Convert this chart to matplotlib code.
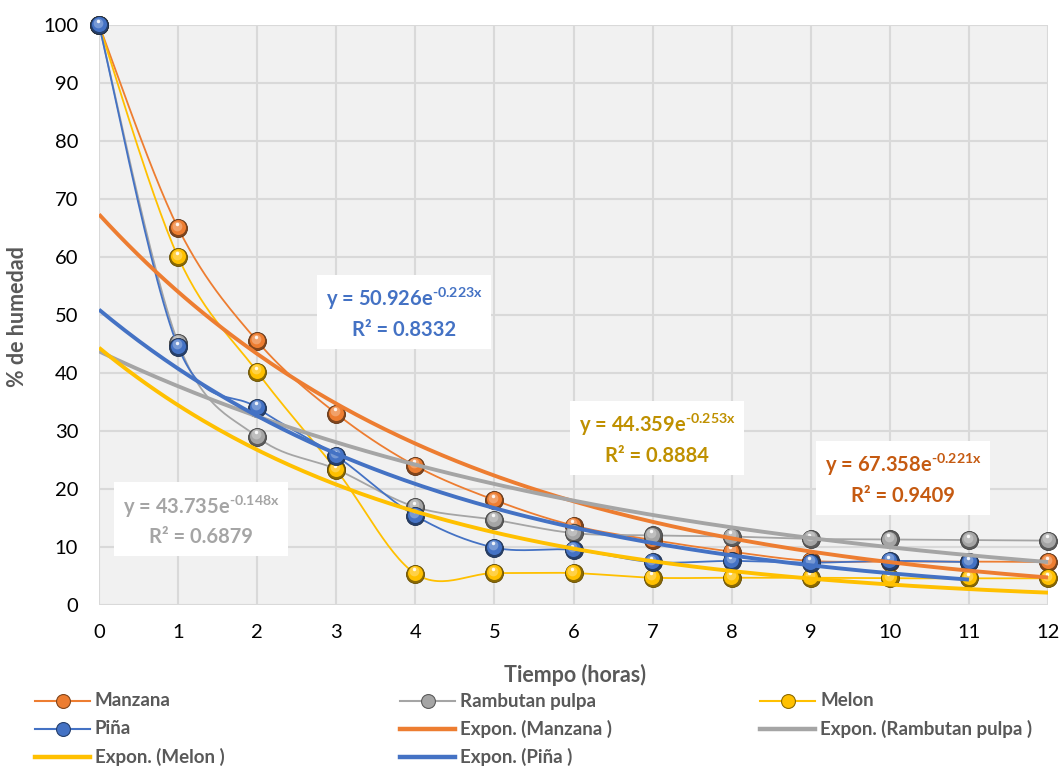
import numpy as np
import matplotlib
matplotlib.use("Agg")
import matplotlib.pyplot as plt
from matplotlib.lines import Line2D
from matplotlib.transforms import offset_copy
import matplotlib.colors as mcolors

plt.rcParams['font.family'] = ['Lato', 'DejaVu Sans']
plt.rcParams['mathtext.fontset'] = 'custom'
plt.rcParams['mathtext.bf'] = 'Lato:bold'
plt.rcParams['mathtext.rm'] = 'Lato:bold'
plt.rcParams['mathtext.default'] = 'bf'

# ---------------- data ----------------
hours = [0, 1, 2, 3, 4, 5, 6, 7, 8, 9, 10, 11, 12]
hours_pina = [0, 1, 2, 3, 4, 5, 6, 7, 8, 9, 10, 11]
manzana = [100, 65, 45.5, 33, 24, 18.1, 13.7, 11.2, 9.2, 7.6, 7.5, 7.5, 7.4]
rambutan = [100, 45.2, 29, 23.4, 16.9, 14.7, 12.4, 12.0, 11.8, 11.4, 11.3, 11.2, 11.1]
melon = [100, 60, 40.2, 23.3, 5.4, 5.5, 5.5, 4.7, 4.7, 4.7, 4.6, 4.6, 4.6]
pina = [100, 44.5, 34, 25.7, 15.4, 9.9, 9.5, 7.4, 7.6, 7.3, 7.6, 7.4]

series_names = ["Manzana", "Rambutan pulpa", "Melon", "Piña"]
trend_a = [67.358, 43.735, 44.359, 50.926]
trend_b = [-0.221, -0.148, -0.253, -0.223]
trend_r2 = ["0.9409", "0.6879", "0.8884", "0.8332"]
trend_xmax = [12, 12, 12, 11]

colors = ["#ED7D31", "#A5A5A5", "#FFC000", "#4472C4"]
eq_colors = ["#C55A11", "#A5A5A5", "#BF9000", "#4472C4"]
eq_pos = [(903, 479), (201, 520), (657, 439), (404, 313)]  # pixel centers

W, H = 1064, 766
fig = plt.figure(figsize=(W / 100, H / 100), dpi=100)
ax = fig.add_axes([99 / W, 1 - 605 / H, 949 / W, 580 / H])
ax.set_facecolor("#F1F1F1")
ax.set_xlim(0, 12)
ax.set_ylim(0, 100)
ax.set_xticks(range(0, 13))
ax.set_yticks(range(0, 101, 10))
ax.grid(True, color="#D9D9D9", linewidth=1.5)
ax.set_axisbelow(True)
for s in ax.spines.values():
    s.set_visible(False)
ax.tick_params(length=0, labelsize=14.5, labelcolor="#000000", pad=15)
ax.tick_params(axis='x', pad=14)


def smooth(x, y, n=30):
    x = np.asarray(x, float)
    y = np.asarray(y, float)
    P = np.column_stack([x, y])
    Pp = np.vstack([P[0], P, P[-1]])
    out = []
    t = np.linspace(0, 1, n)
    for i in range(len(P) - 1):
        p0, p1, p2, p3 = Pp[i], Pp[i + 1], Pp[i + 2], Pp[i + 3]
        c1 = p1 + (p2 - p0) / 6
        c2 = p2 - (p3 - p1) / 6
        seg = ((1 - t) ** 3)[:, None] * p1 + (3 * (1 - t) ** 2 * t)[:, None] * c1 \
            + (3 * (1 - t) * t ** 2)[:, None] * c2 + (t ** 3)[:, None] * p2
        out.append(seg if i == 0 else seg[1:])
    out = np.vstack(out)
    return out[:, 0], out[:, 1]


def shade(c, f):
    r, g, b = mcolors.to_rgb(c)
    if f < 0:
        return (r * (1 + f), g * (1 + f), b * (1 + f))
    return (r + (1 - r) * f, g + (1 - g) * f, b + (1 - b) * f)


def sphere_markers(ax, x, y, c, z, size=13):
    kw = dict(clip_on=False, linestyle='none')
    ax.plot(x, y, 'o', ms=size, color=shade(c, -0.45), mec=shade(c, -0.6), mew=0.6, zorder=z, **kw)
    tr = offset_copy(ax.transData, fig=fig, x=-0.3, y=0.6, units='points')
    ax.plot(x, y, 'o', ms=size - 2.2, color=c, mec='none', zorder=z + 0.1, transform=tr, **kw)
    tr2 = offset_copy(ax.transData, fig=fig, x=-0.8, y=1.8, units='points')
    ax.plot(x, y, 'o', ms=size - 6, color=shade(c, 0.35), mec='none', alpha=0.8, zorder=z + 0.2,
            transform=tr2, **kw)
    tr3 = offset_copy(ax.transData, fig=fig, x=-1.0, y=3.1, units='points')
    ax.plot(x, y, 'o', ms=2.5, color='white', mec='none', alpha=0.9, zorder=z + 0.3, transform=tr3, **kw)


data = [(hours, manzana), (hours, rambutan), (hours, melon), (hours_pina, pina)]
for i, ((xs, ys), c) in enumerate(zip(data, colors)):
    sx, sy = smooth(xs, ys)
    ax.plot(sx, sy, color=c, lw=1.3, zorder=3 + i)
    sphere_markers(ax, xs, ys, c, 5 + i)

for i in range(4):
    xt = np.linspace(0, trend_xmax[i], 200)
    ax.plot(xt, trend_a[i] * np.exp(trend_b[i] * xt), color=colors[i], lw=2.8, zorder=12 + i,
            solid_capstyle='butt')

for i in range(4):
    px, py = eq_pos[i]
    txt = "y = %.3fe$^{\\text{%.3fx}}$\nR² = %s" % (trend_a[i], trend_b[i], trend_r2[i])
    fig.text(px / W, 1 - py / H, txt, ha='center', va='center', fontsize=14.5, fontweight='bold',
             color=eq_colors[i], linespacing=1.45, zorder=20,
             bbox=dict(boxstyle='square,pad=0.45', fc='white', ec='none'))

fig.text(575 / W, 1 - 675 / H, "Tiempo (horas)", ha='center', va='center',
         fontsize=15.5, fontweight='bold', color="#595959")
fig.text(18 / W, 1 - 317 / H, "% de humedad", rotation=90, ha='center', va='center',
         fontsize=15.5, fontweight='bold', color="#595959")

# legend (manual, Excel row-major order)
legend_items = [
    ("Manzana", colors[0], True), ("Rambutan pulpa", colors[1], True), ("Melon", colors[2], True),
    ("Piña", colors[3], True), ("Expon. (Manzana )", colors[0], False),
    ("Expon. (Rambutan pulpa )", colors[1], False),
    ("Expon. (Melon )", colors[2], False), ("Expon. (Piña )", colors[3], False),
]
col_x = [35, 400, 760]
row_y = [701, 729, 757]
for k, (lab, c, mk) in enumerate(legend_items):
    r, cc = divmod(k, 3)
    x0 = col_x[cc]
    y0 = row_y[r]
    xs = [x0 / W, (x0 + 55) / W]
    ys = [1 - y0 / H] * 2
    if mk:
        fig.add_artist(Line2D(xs, ys, color=c, lw=1.5, transform=fig.transFigure))
        fig.add_artist(Line2D([(x0 + 27.5) / W], [1 - y0 / H], marker='o', ms=10, color=c,
                              mec=shade(c, -0.45), mew=0.8, transform=fig.transFigure))
    else:
        fig.add_artist(Line2D(xs, ys, color=c, lw=3.2, transform=fig.transFigure))
    fig.text((x0 + 60) / W, 1 - y0 / H, lab, ha='left', va='center', fontsize=13.5,
             fontweight='bold', color="#595959")

fig.savefig("out.png", dpi=100)
